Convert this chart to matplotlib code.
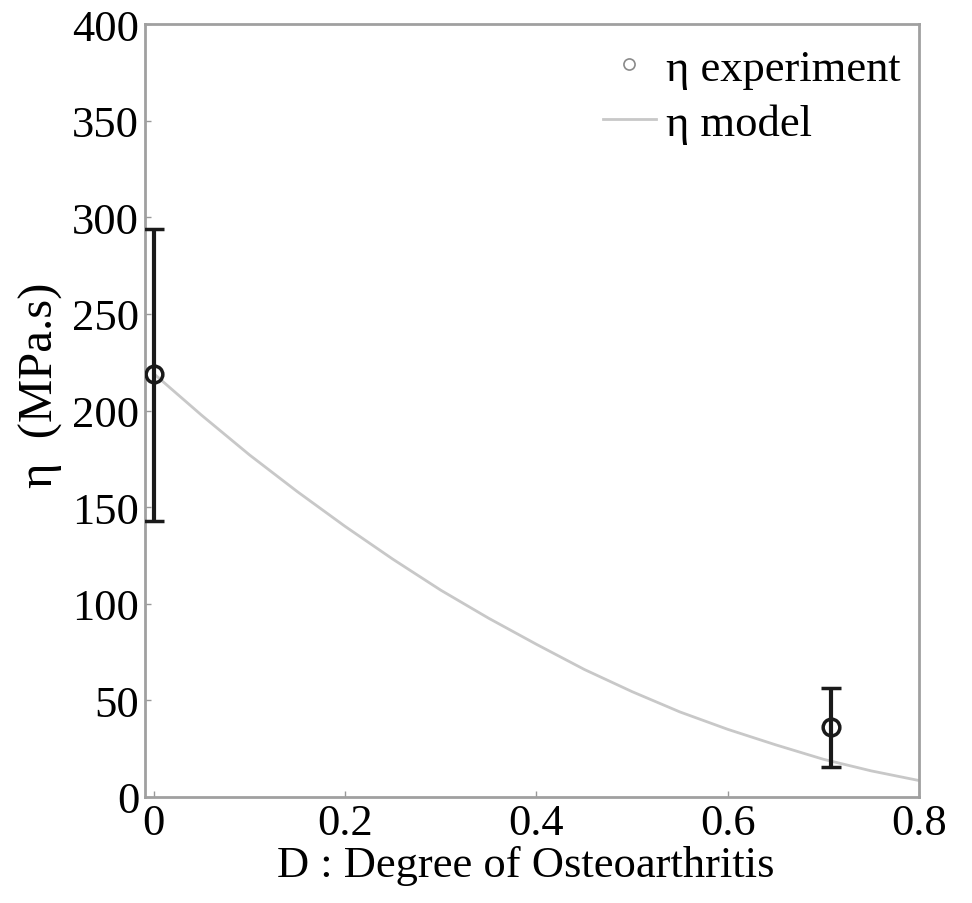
import matplotlib
matplotlib.use("Agg")
import matplotlib.pyplot as plt

# experimental data
D_exp = [0.0, 0.708]
eta_exp = [219.0, 36.0]
err_low = [76.0, 20.5]
err_high = [75.0, 20.5]

# model curve
D_model = [0.0, 0.05, 0.1, 0.15, 0.2, 0.25, 0.3, 0.35, 0.4, 0.45, 0.5,
           0.55, 0.6, 0.65, 0.7, 0.75, 0.8]
eta_model = [219.0, 197.5, 177.0, 158.0, 140.0, 123.0, 107.0, 92.5, 79.0,
             66.0, 54.5, 44.0, 35.0, 27.0, 19.5, 13.5, 8.5]

xticks = [0, 0.2, 0.4, 0.6, 0.8]
xticklabels = ["0", "0.2", "0.4", "0.6", "0.8"]
yticks = [0, 50, 100, 150, 200, 250, 300, 350, 400]
yticklabels = ["0", "50", "100", "150", "200", "250", "300", "350", "400"]

plt.rcParams['font.family'] = ['Liberation Serif', 'DejaVu Serif']

fig = plt.figure(figsize=(9.72, 9.04), dpi=100)
ax = fig.add_axes([0.149, 0.1173, 0.7965, 0.855])

ax.plot(D_model, eta_model, color='#c8c8c8', lw=2.0, label='η model', zorder=2)
ax.errorbar(D_exp, eta_exp, yerr=[err_low, err_high], fmt='o', mfc='none',
            mec='#1a1a1a', ms=12, mew=2.5, ecolor='#1a1a1a', elinewidth=3,
            capsize=7, capthick=2.5, zorder=3)
# legend proxy for experiment marker
ax.plot([], [], 'o', mfc='none', mec='#8a8a8a', ms=8, mew=1.2, label='η experiment')

ax.set_xlim(-0.0095, 0.8)
ax.set_ylim(0, 400)
ax.set_xticks(xticks)
ax.set_xticklabels(xticklabels)
ax.set_yticks(yticks)
ax.set_yticklabels(yticklabels)
ax.tick_params(direction='in', length=4, width=1, color='#999999',
               labelsize=32, pad=4)

for s in ax.spines.values():
    s.set_color('#a0a0a0')
    s.set_linewidth(2)

ax.set_xlabel('D : Degree of Osteoarthritis', fontsize=32)
ax.xaxis.set_label_coords(0.492, -0.062)
ax.set_ylabel('η  (MPa.s)', fontsize=35)
ax.yaxis.set_label_coords(-0.106, 0.534)

h, l = ax.get_legend_handles_labels()
order = [1, 0]
ax.legend([h[i] for i in order], [l[i] for i in order], loc='upper right',
          frameon=False, fontsize=32, handlelength=1.2, handletextpad=0.22,
          borderaxespad=0.0, labelspacing=0.33, bbox_to_anchor=(0.9987, 0.991))

fig.savefig('out.png', dpi=100, facecolor='white')
